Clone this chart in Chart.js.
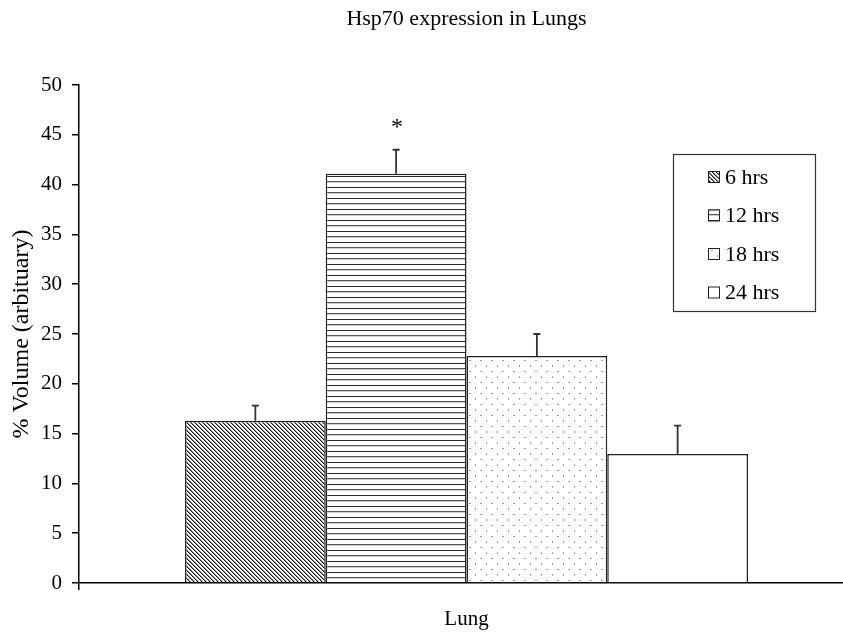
<!DOCTYPE html>
<html><head><meta charset="utf-8">
<script src="https://cdn.jsdelivr.net/npm/chart.js@4"></script>
<style>html,body{margin:0;padding:0;background:#fff;overflow:hidden;width:843px;height:633px}</style>
</head><body>
<canvas id="c" width="855" height="633"></canvas>
<script>
// ---- data ----
const categories = ['Lung'];
const seriesLabels = ['6 hrs', '12 hrs', '18 hrs', '24 hrs'];
const means = [16.3, 41.1, 22.8, 12.95];
const errors = [1.5, 2.4, 2.2, 2.85];
const significance = ['', '*', '', ''];
const yMin = 0, yMax = 50, yStep = 5;
const chartTitle = 'Hsp70 expression in Lungs';
const yAxisTitle = '% Volume (arbituary)';

const FONT = 'Liberation Serif, Times New Roman, serif';
const canvas = document.getElementById('c');
const mainCtx = canvas.getContext('2d');

function makePattern(kind) {
  const t = document.createElement('canvas');
  const g = t.getContext('2d');
  if (kind === 'diag') {
    t.width = 4; t.height = 4;
    g.fillStyle = '#fff'; g.fillRect(0, 0, 4, 4);
    for (let i = 0; i < 4; i++) {
      g.fillStyle = '#1a1a1a'; g.fillRect(i, i, 1, 1);
      g.fillStyle = '#8a8a8a'; g.fillRect((i + 1) % 4, i, 1, 1);
    }
  } else if (kind === 'horiz') {
    t.width = 8; t.height = 11;
    g.fillStyle = '#fff'; g.fillRect(0, 0, 8, 11);
    g.fillStyle = '#2a2a2a'; g.fillRect(0, 0, 8, 1);
    g.fillStyle = '#555'; g.fillRect(0, 5, 8, 1);
    g.fillStyle = '#ccc'; g.fillRect(0, 6, 8, 1);
  } else if (kind === 'dots') {
    t.width = 11; t.height = 11;
    g.fillStyle = '#fff'; g.fillRect(0, 0, 11, 11);
    g.fillStyle = '#9a9a9a'; g.fillRect(2, 2, 1, 2);
    g.fillStyle = '#9a9a9a'; g.fillRect(7, 8, 2, 1);
  } else {
    t.width = 2; t.height = 2;
    g.fillStyle = '#fff'; g.fillRect(0, 0, 2, 2);
  }
  return mainCtx.createPattern(t, 'repeat');
}
const fills = [makePattern('diag'), makePattern('horiz'), makePattern('dots'), makePattern('plain')];

const datasets = seriesLabels.map((lab, i) => ({
  label: lab,
  data: [means[i]],
  backgroundColor: fills[i],
  borderColor: '#222',
  borderWidth: 1.5,
  borderSkipped: 'start'
}));

const errorBarPlugin = {
  id: 'errorBars',
  afterDatasetsDraw(chart) {
    const ctx = chart.ctx;
    const ys = chart.scales.y;
    ctx.save();
    ctx.strokeStyle = '#333';
    ctx.lineWidth = 1.8;
    chart.data.datasets.forEach((ds, i) => {
      const meta = chart.getDatasetMeta(i);
      meta.data.forEach((bar) => {
        const top = ys.getPixelForValue(means[i] + errors[i]);
        const base = ys.getPixelForValue(means[i]);
        ctx.beginPath();
        ctx.moveTo(bar.x, base);
        ctx.lineTo(bar.x, top);
        ctx.moveTo(bar.x - 3.5, top);
        ctx.lineTo(bar.x + 3.5, top);
        ctx.stroke();
        if (significance[i]) {
          ctx.fillStyle = '#000';
          ctx.font = '24px ' + FONT;
          ctx.textAlign = 'center';
          ctx.textBaseline = 'alphabetic';
          ctx.fillText(significance[i], bar.x + 1, top - 16);
        }
      });
    });
    ctx.restore();
  }
};

const legendBoxPlugin = {
  id: 'legendBox',
  afterDraw(chart) {
    const ctx = chart.ctx;
    const boxL = 673, boxT = 154, boxW = 142, boxH = 157;
    ctx.save();
    ctx.fillStyle = '#fff';
    ctx.fillRect(boxL, boxT, boxW, boxH);
    ctx.strokeStyle = '#333';
    ctx.lineWidth = 1.2;
    ctx.strokeRect(boxL + 0.5, boxT + 0.5, boxW, boxH);
    ctx.font = '22px ' + FONT;
    ctx.textBaseline = 'middle';
    ctx.textAlign = 'left';
    chart.data.datasets.forEach((ds, i) => {
      const cy = 177 + i * 38.5;
      const sx = 708, sz = 12;
      ctx.fillStyle = ds.backgroundColor;
      ctx.fillRect(sx, cy - sz / 2, sz, sz);
      ctx.strokeStyle = '#222';
      ctx.lineWidth = 1;
      ctx.strokeRect(sx + 0.5, cy - sz / 2 + 0.5, sz - 1, sz - 1);
      ctx.fillStyle = '#000';
      ctx.fillText(ds.label, sx + sz + 5, cy + 1);
    });
    ctx.restore();
  }
};

new Chart(canvas, {
  type: 'bar',
  data: { labels: categories, datasets },
  options: {
    responsive: false,
    devicePixelRatio: 1,
    animation: false,
    layout: { padding: { left: 4, right: 1, top: 0, bottom: 0 } },
    datasets: { bar: { categoryPercentage: 0.7265, barPercentage: 1 } },
    plugins: {
      legend: { display: false },
      tooltip: { enabled: false },
      title: {
        display: true,
        text: chartTitle,
        fullSize: false,
        color: '#000',
        font: { family: FONT, size: 22, weight: 'normal' },
        padding: { top: 6, bottom: 52.6 }
      }
    },
    scales: {
      x: {
        offset: true,
        grid: { offset: true, drawOnChartArea: false, drawTicks: true, tickLength: 7, color: '#000', lineWidth: 1.5 },
        border: { display: true, color: '#000', width: 1.5 },
        ticks: { color: '#000', font: { family: FONT, size: 21 }, padding: 17 },
        afterFit(s) { s.height = 50; }
      },
      y: {
        min: yMin, max: yMax,
        ticks: { stepSize: yStep, color: '#000', font: { family: FONT, size: 21 }, padding: 10 },
        grid: { drawOnChartArea: false, drawTicks: true, tickLength: 7, color: '#000', lineWidth: 1.5 },
        border: { display: true, color: '#000', width: 1.5 },
        title: { display: true, text: yAxisTitle, color: '#000', font: { family: FONT, size: 24 }, padding: { top: 3, bottom: 3 } },
        afterFit(s) { s.width = 75; }
      }
    }
  },
  plugins: [errorBarPlugin, legendBoxPlugin]
});
</script>
</body></html>
